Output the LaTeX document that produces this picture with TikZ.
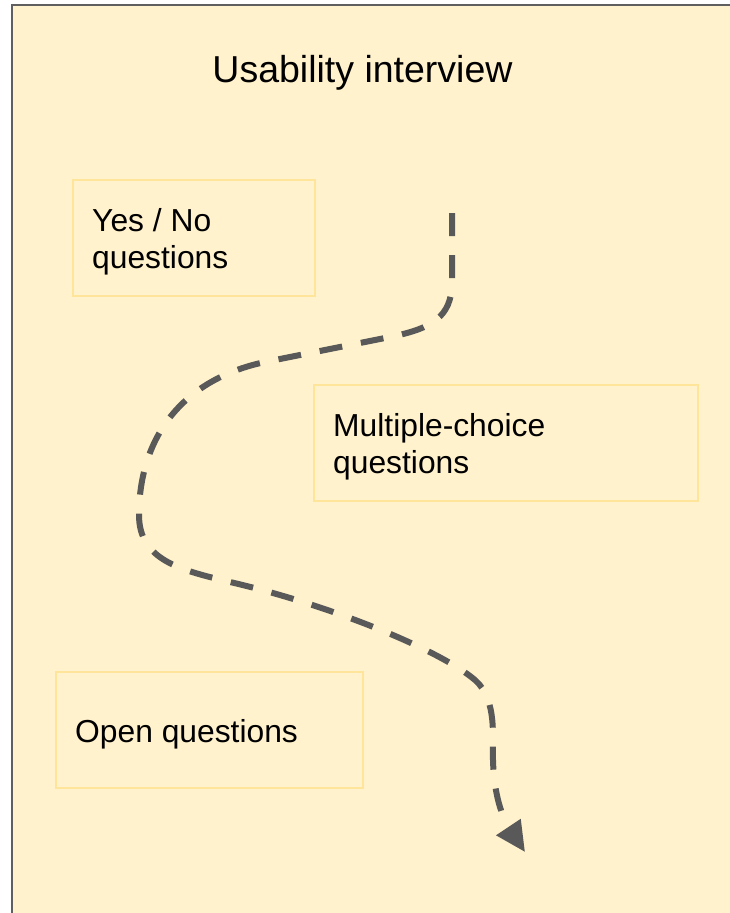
\documentclass[tikz,border=0pt]{standalone}
\usepackage{fontspec}
\setmainfont{Liberation Sans}
\usetikzlibrary{arrows.meta}
\definecolor{bgfill}{HTML}{FFF2CC}
\definecolor{boxline}{HTML}{FFE599}
\definecolor{frameline}{HTML}{5F5F5F}
\definecolor{pathline}{HTML}{595959}
\begin{document}
\begin{tikzpicture}[x=1pt,y=-1pt,
  qbox/.style={draw=boxline, line width=2pt, fill=bgfill, anchor=north west,
    minimum height=116pt, inner sep=0pt},
  qtext/.style={anchor=west, xshift=20pt, yshift=-4pt, inner sep=0pt, align=left,
    font=\fontsize{31.8}{37}\selectfont},
  flow/.style={draw=pathline, line width=6pt, dash pattern=on 23pt off 19pt,
    -{Triangle[length=30pt,width=28pt]}}]
\useasboundingbox (0,0) rectangle (730,913);
\fill[bgfill] (12,5) rectangle (732,915);
\draw[frameline, line width=2.2pt] (12,915) -- (12,5) -- (732,5);
\node[anchor=base, font=\fontsize{37.5}{44}\selectfont] (title) at (362.5,82) {Usability interview};
\node[qbox, minimum width=242pt] (yesno) at (72,179) {};
\node[qtext] (yesnot) at (yesno.west) {Yes / No\\questions};
\node[qbox, minimum width=384pt] (multi) at (313,384) {};
\node[qtext] (multit) at (multi.west) {Multiple-choice\\questions};
\node[qbox, minimum width=307pt] (open) at (55,671) {};
\node[qtext] (opent) at (open.west) {Open questions};
\coordinate (s) at (452,213);
\coordinate (e) at (525,852);
\draw[flow] (s) -- (452,282) .. controls (452,318) and (430,328) .. (395,336)
  -- (265,362) .. controls (180,380) and (139,440) .. (139,515)
  .. controls (139,560) and (180,570) .. (230,582)
  .. controls (330,605) and (440,650) .. (475,680)
  .. controls (498,700) and (492,740) .. (493,760)
  .. controls (494,800) and (505,822) .. (e);
\end{tikzpicture}
\end{document}
